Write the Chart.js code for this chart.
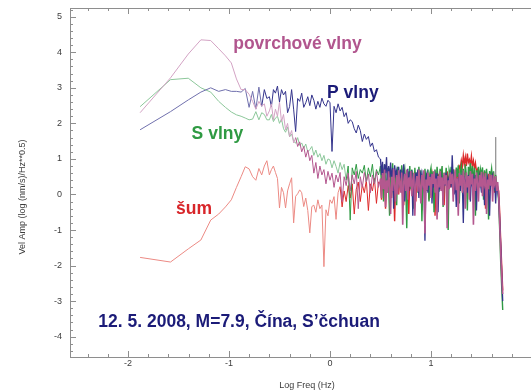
<!DOCTYPE html>
<html>
<head>
<meta charset="utf-8">
<script src="https://cdn.jsdelivr.net/npm/chart.js@4/dist/chart.umd.min.js"></script>
<style>
  html, body { margin: 0; padding: 0; background: #fff; }
  canvas { display: block; }
</style>
</head>
<body>
<canvas id="spectrum" width="531" height="392"></canvas>
<script>
// Log10 of frequency (Hz): first FFT bins, then the dense part of the spectrum
const lowBinsLog = [-1.880,-1.579,-1.403,-1.278,-1.181,-1.102,-1.035,-0.977,-0.926,-0.880,
                    -0.839,-0.801,-0.766,-0.734,-0.704,-0.676,-0.650,-0.625];
const midLog = [-0.60,-0.58,-0.56,-0.54,-0.52,-0.50,-0.48,-0.46,-0.44,-0.42,
                -0.40,-0.38,-0.36,-0.34,-0.32,-0.30,-0.28,-0.26,-0.24,-0.22,
                -0.20,-0.18,-0.16,-0.14,-0.12,-0.10,-0.08,-0.06,-0.04,-0.02,
                 0.00, 0.02, 0.04, 0.06, 0.08, 0.10, 0.12, 0.14, 0.16, 0.18,
                 0.20, 0.22, 0.24, 0.26, 0.28, 0.30, 0.32, 0.34, 0.36, 0.38,
                 0.40, 0.42, 0.44, 0.46, 0.48];
const highLog = [0.50,0.51,0.52,0.53,0.54,0.55,0.56,0.57,0.58,0.59,
                 0.60,0.61,0.62,0.63,0.64,0.65,0.66,0.67,0.68,0.69,
                 0.70,0.71,0.72,0.73,0.74,0.75,0.76,0.77,0.78,0.79,
                 0.80,0.81,0.82,0.83,0.84,0.85,0.86,0.87,0.88,0.89,
                 0.90,0.91,0.92,0.93,0.94,0.95,0.96,0.97,0.98,0.99,
                 1.00,1.01,1.02,1.03,1.04,1.05,1.06,1.07,1.08,1.09,
                 1.10,1.11,1.12,1.13,1.14,1.15,1.16,1.17,1.18,1.19,
                 1.20,1.21,1.22,1.23,1.24,1.25,1.26,1.27,1.28,1.29,
                 1.30,1.31,1.32,1.33,1.34,1.35,1.36,1.37,1.38,1.39,
                 1.40,1.41,1.42,1.43,1.44,1.45,1.46,1.47,1.48,1.49,
                 1.50,1.51,1.52,1.53,1.54,1.55,1.56,1.57,1.58,1.59,
                 1.60,1.61,1.62,1.63,1.64,1.65,1.66,
                 1.67,1.68,1.69,1.70,1.71];
const logFreq = lowBinsLog.concat(midLog, highLog);

// Velocity amplitude spectra, log10((nm/s)/Hz^0.5)
const surfaceWaves = [
  2.30,3.28,3.95,4.35,4.33,4.10,3.90,3.70,3.25,2.95,2.95,2.82,2.62,2.40,2.62,2.48,2.55,2.20,
  2.35,2.55,2.10,2.40,2.20,2.60,2.05,2.25,1.82,2.00,
  1.63,1.80,1.45,1.60,1.35,1.48,1.20,1.35,1.05,1.25,
  0.95,1.10,0.60,0.90,0.45,0.80,0.55,0.70,0.30,0.65,
  0.40,0.60,0.20,0.55,0.35,0.62,-0.20,0.50,0.25,0.60,
  0.10,0.55,0.30,0.65,-0.40,0.50,0.20,0.62,0.35,0.58,
  0.05,0.55,0.30,0.65,0.20,
  0.45,-0.10,0.60,0.15,0.70,-0.35,0.40,0.05,0.65,0.20,
  -0.55,0.50,0.10,0.72,0.25,-0.20,0.55,0.00,0.68,0.30,
  0.05,0.62,-0.85,0.35,0.58,0.10,0.70,-0.15,0.48,0.22,
  0.66,-0.05,0.40,0.60,-0.60,0.30,0.52,0.08,0.70,0.18,
  -0.25,0.55,0.32,0.68,-1.10,0.42,0.12,0.62,0.25,0.50,
  -0.10,0.58,0.30,0.65,0.05,0.45,-0.70,0.52,0.20,0.66,
  0.10,0.48,-0.30,0.60,0.28,0.55,-0.95,0.40,0.15,0.62,
  0.30,0.58,-0.20,0.50,0.70,0.12,0.45,-0.60,0.60,0.25,
  0.55,0.05,0.68,0.35,-0.40,0.62,0.20,0.52,-0.15,0.66,
  0.28,0.58,-0.85,0.45,0.10,0.62,0.35,-0.20,0.55,0.22,
  0.64,-0.05,0.48,0.30,0.60,-0.55,0.42,0.15,0.58,0.25,
  0.55,-0.20,0.45,0.30,0.52,0.10,0.35,
  0.00,-0.80,-1.60,-2.30,-2.80];

const pWaves = [
  1.82,2.33,2.66,2.88,3.00,2.90,2.95,2.90,2.90,2.88,2.98,2.45,2.90,2.40,3.02,2.48,2.95,2.70,
  2.75,2.47,2.95,2.85,3.05,2.60,2.95,2.80,2.90,2.30,
  2.47,2.95,2.40,1.77,2.70,2.62,2.85,2.45,2.58,2.75,
  2.50,2.80,2.65,2.40,2.62,2.45,2.71,2.55,2.48,2.65,
  2.58,1.21,2.48,2.30,2.55,2.35,2.45,2.19,2.30,2.00,
  2.10,2.05,1.85,1.73,1.95,1.80,1.49,1.70,1.55,1.63,
  1.35,1.45,1.20,1.26,1.05,
  1.00,0.55,0.92,0.30,0.85,0.60,1.05,0.20,0.80,0.48,
  0.90,0.35,0.75,-0.40,0.82,0.55,0.68,0.15,0.78,0.45,
  0.70,0.25,0.62,0.85,-0.20,0.58,0.40,0.72,0.10,0.65,
  0.30,0.68,-0.60,0.55,0.20,0.62,0.40,0.70,-0.10,0.50,
  0.62,0.15,0.55,0.35,-1.30,0.48,0.60,0.05,0.52,0.30,
  0.58,-0.25,0.45,0.20,0.55,0.35,0.60,-0.50,0.40,0.15,
  0.50,0.30,-0.15,0.55,0.25,0.62,0.10,0.45,0.35,0.58,
  0.20,1.10,0.40,0.00,0.52,-0.35,0.45,0.25,0.55,0.10,
  0.48,0.30,-0.80,0.52,0.20,0.45,0.05,0.55,0.35,-0.20,
  0.50,0.25,0.45,0.10,0.55,-0.45,0.40,0.20,0.50,0.30,
  0.05,0.48,0.35,-0.30,0.50,0.22,0.45,0.10,-0.60,0.42,
  0.30,0.50,0.15,0.40,-0.25,0.35,0.10,
  -0.10,-0.70,-1.40,-2.20,-3.00];

const sWaves = [
  2.47,3.23,3.27,3.00,2.88,2.62,2.45,2.32,2.24,2.20,2.15,2.10,2.12,2.33,2.10,2.30,2.25,2.10,
  2.10,2.25,2.05,2.15,2.20,2.00,2.12,1.85,1.75,1.90,
  1.62,1.70,1.50,1.44,1.60,1.38,1.45,1.30,1.42,1.20,
  1.26,1.35,1.10,1.25,1.05,1.15,0.95,1.10,0.85,1.00,
  0.97,0.75,0.95,0.79,0.60,0.90,0.70,0.85,0.40,0.80,
  -0.72,0.75,0.55,0.85,0.45,0.70,0.60,0.82,0.35,0.75,
  0.50,0.85,0.30,0.70,0.55,
  0.80,0.25,0.65,-0.20,0.85,0.40,0.10,0.75,0.30,-0.60,
  0.70,0.35,0.88,0.05,0.60,0.45,-0.30,0.78,0.20,0.62,
  0.40,0.82,-0.10,0.55,0.72,0.25,-0.95,0.65,0.38,0.80,
  0.15,0.70,0.45,-0.40,0.75,0.30,0.62,0.05,0.78,0.42,
  0.68,-0.75,0.55,0.25,0.72,0.40,0.10,0.70,-0.20,0.60,
  0.75,0.35,0.65,-0.50,0.70,0.20,0.78,0.45,0.08,0.72,
  0.50,0.80,-0.35,0.62,0.30,0.75,0.40,-1.00,0.68,0.55,
  0.78,0.25,0.70,0.45,0.05,0.76,0.50,0.82,-0.25,0.65,
  0.80,0.40,0.72,0.15,0.85,0.55,-0.45,0.78,0.60,0.88,
  0.45,0.80,0.30,0.75,-0.60,0.68,0.50,0.78,0.20,0.70,
  0.55,0.76,-0.15,0.68,0.40,0.72,0.25,-0.70,0.66,0.50,
  0.72,0.35,0.65,0.10,0.55,0.30,0.20,
  -0.20,-1.00,-1.90,-2.60,-3.25];

const noise = [
  -1.77,-1.90,-1.53,-1.28,-0.72,-0.55,-0.35,-0.15,0.20,0.50,0.78,0.72,0.50,0.40,0.73,0.55,0.80,0.95,
  0.55,0.70,0.80,0.62,0.45,-0.38,0.20,0.05,-0.38,0.10,
  0.30,0.47,-0.80,-0.05,0.02,0.13,0.05,-0.34,-0.10,-0.45,
  -1.08,-0.34,-0.30,-0.50,-0.15,-0.40,-0.30,-2.03,-0.43,-0.60,
  -0.15,-0.25,-0.06,-0.70,0.05,0.22,-0.35,0.10,-0.20,0.25,
  -0.10,0.30,-0.55,0.15,0.35,-0.20,0.28,0.05,0.40,-0.45,
  0.30,0.10,0.45,-0.25,0.35,
  0.30,-0.15,0.45,0.10,0.55,-0.40,0.35,0.05,0.50,0.20,
  0.40,-0.10,0.55,0.25,-0.75,0.45,0.15,0.50,0.00,0.38,
  0.55,0.20,0.42,-0.30,0.50,0.12,0.60,0.28,-0.55,0.45,
  0.25,0.52,0.05,0.48,0.30,-0.20,0.55,0.18,0.45,0.35,
  0.58,-0.45,0.40,0.20,0.52,0.10,0.60,0.30,-0.15,0.48,
  0.35,0.55,0.12,0.62,-0.60,0.45,0.25,0.58,0.30,0.50,
  0.15,0.60,0.40,-0.30,0.55,0.28,0.65,0.35,0.50,0.20,
  0.62,0.40,0.70,0.15,0.58,0.45,0.72,0.30,0.80,0.75,
  0.95,0.78,1.10,0.85,1.05,0.80,1.15,0.90,0.98,0.82,
  1.08,0.80,0.95,0.72,0.88,0.65,0.70,0.40,0.60,0.45,
  0.55,0.20,0.62,0.35,-0.40,0.50,0.25,0.58,0.10,0.45,
  0.52,0.30,0.48,0.05,0.40,0.25,0.15,
  0.10,-0.50,-1.30,-2.00,-2.70];

// Vertical marker near the upper frequency limit
const markerLog = [1.64, 1.64];
const markerAmp = [1.61, 0.40];

// Axis ticks
const xTickValues = [-2, -1, 0, 1];
const yTickValues = [-4, -3, -2, -1, 0, 1, 2, 3, 4, 5];

// Labels placed in data coordinates (left edge, baseline)
const labelTexts = ['povrchové vlny', 'P vlny', 'S vlny', 'šum', '12. 5. 2008, M=7.9, Čína, S’čchuan'];
const labelLog   = [-0.958, -0.029, -1.370, -1.525, -2.294];
const labelAmp   = [4.09, 2.70, 1.55, -0.55, -3.72];
const labelColors = ['#b1558e', '#1b1b78', '#2f9a43', '#d8262a', '#1b1b78'];

const toPoints = ys => logFreq.map((x, i) => ({ x, y: ys[i] }));
// thin, pale strokes for the sparse low-frequency part; fuller strokes in the dense part
const twoTone = (pale, strong, split) => ctx => (ctx.p0.parsed.x < split ? pale : strong);
const denseWidth = (w) => ctx => (ctx.p0.parsed.x >= 0.5 ? w : 1);

const frame = {
  id: 'frame',
  beforeDatasetsDraw(chart) {
    const { ctx, chartArea: a, scales: { x, y } } = chart;
    ctx.save();
    ctx.strokeStyle = '#8e8e8e';
    ctx.lineWidth = 1;
    ctx.beginPath();
    ctx.moveTo(a.left + 0.5, a.top); ctx.lineTo(a.left + 0.5, a.bottom + 1);
    ctx.moveTo(a.left, a.bottom + 0.5); ctx.lineTo(a.right, a.bottom + 0.5);
    ctx.moveTo(a.left, a.top + 0.5); ctx.lineTo(a.right, a.top + 0.5);
    for (let i = -25; i <= 30; i++) {
      const v = i / 5;
      if (v < y.min || v > y.max) continue;
      const py = Math.round(y.getPixelForValue(v)) + 0.5;
      const len = i % 5 === 0 ? 6 : 3;
      ctx.moveTo(a.left, py); ctx.lineTo(a.left + len, py);
    }
    for (let i = -15; i <= 12; i++) {
      const v = i / 5;
      if (v < x.min || v > x.max) continue;
      const px = Math.round(x.getPixelForValue(v)) + 0.5;
      const len = i % 5 === 0 ? 6 : 3;
      ctx.moveTo(px, a.bottom); ctx.lineTo(px, a.bottom - len);
      ctx.moveTo(px, a.top); ctx.lineTo(px, a.top + len);
    }
    ctx.stroke();

    ctx.fillStyle = '#3c3c3c';
    ctx.font = '9px "Liberation Sans", Arial, sans-serif';
    ctx.textAlign = 'right';
    ctx.textBaseline = 'middle';
    yTickValues.forEach(v => ctx.fillText(String(v), a.left - 8, y.getPixelForValue(v)));
    ctx.textAlign = 'center';
    xTickValues.forEach(v => ctx.fillText(String(v), x.getPixelForValue(v), a.bottom + 7));

    ctx.fillText('Log Freq (Hz)', 307, a.bottom + 29);
    ctx.translate(23, 197);
    ctx.rotate(-Math.PI / 2);
    ctx.fillText('Vel Amp (log (nm/s)/Hz**0.5)', 0, 0);
    ctx.restore();
  },
  afterDatasetsDraw(chart) {
    const { ctx, scales: { x, y } } = chart;
    ctx.save();
    ctx.font = 'bold 17.5px "Liberation Sans", Arial, sans-serif';
    ctx.textAlign = 'left';
    ctx.textBaseline = 'alphabetic';
    labelTexts.forEach((t, i) => {
      ctx.fillStyle = labelColors[i];
      ctx.fillText(t, x.getPixelForValue(labelLog[i]), y.getPixelForValue(labelAmp[i]));
    });
    ctx.restore();
  }
};

new Chart(document.getElementById('spectrum'), {
  type: 'line',
  data: {
    datasets: [
      { label: 'povrchové vlny', data: toPoints(surfaceWaves), order: 0,
        borderColor: '#b1558e',
        segment: { borderColor: twoTone('#d3a3c4', '#b4588f', -0.35), borderWidth: denseWidth(1.6) } },
      { label: 'P vlny', data: toPoints(pWaves), order: 1,
        borderColor: '#25257f',
        segment: { borderColor: twoTone('#7070ad', '#34348c', -0.7), borderWidth: denseWidth(1.3) } },
      { label: 'S vlny', data: toPoints(sWaves), order: 2,
        borderColor: '#2f9a43',
        segment: { borderColor: twoTone('#8cc79a', '#2f9a43', 0.15), borderWidth: denseWidth(1.4) } },
      { label: 'šum', data: toPoints(noise), order: 3,
        borderColor: '#dd2a2a',
        segment: { borderColor: twoTone('#ec8a84', '#dd2a2a', 0.1), borderWidth: denseWidth(1.4) } },
      { label: 'marker', data: markerLog.map((v, i) => ({ x: v, y: markerAmp[i] })), order: 4,
        borderColor: '#9a9a9a' }
    ]
  },
  options: {
    responsive: false,
    animation: false,
    devicePixelRatio: 1,
    layout: { padding: { left: 70, right: 0, top: 8, bottom: 35 } },
    elements: { point: { radius: 0 }, line: { borderWidth: 1, tension: 0 } },
    plugins: { legend: { display: false }, tooltip: { enabled: false } },
    scales: {
      x: { type: 'linear', min: -2.574, max: 1.99, display: false },
      y: { type: 'linear', min: -4.571, max: 5.245, display: false }
    }
  },
  plugins: [frame]
});
</script>
</body>
</html>
